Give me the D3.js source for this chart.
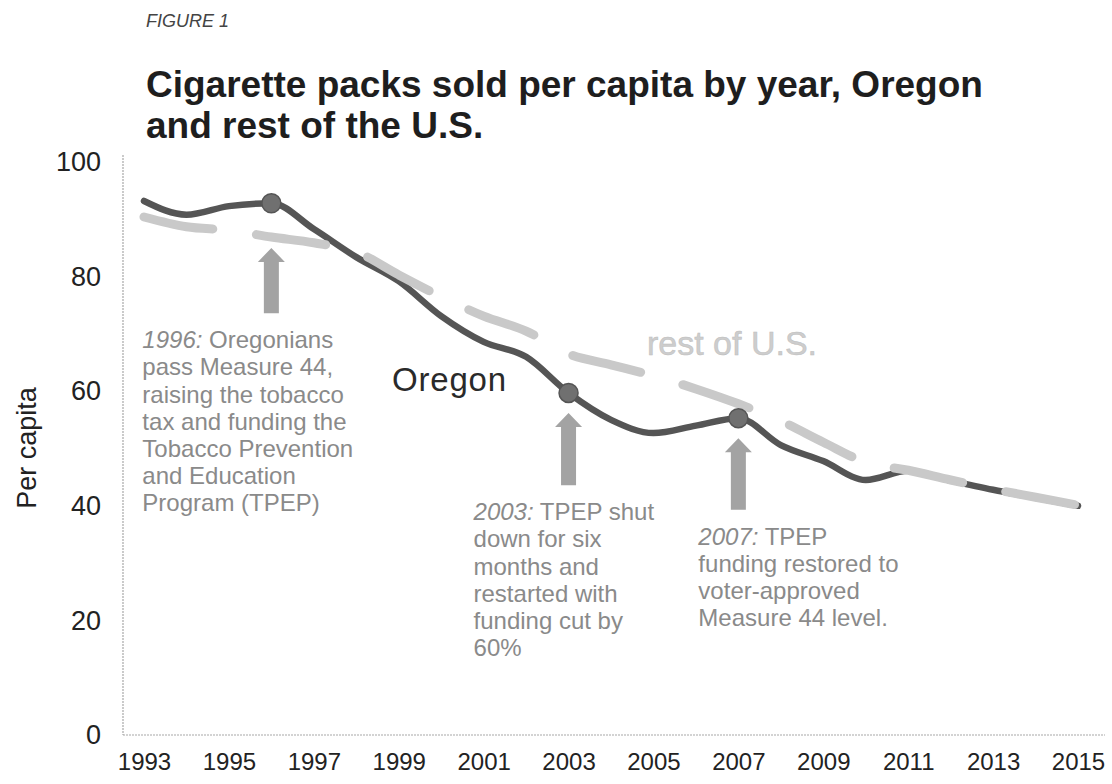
<!DOCTYPE html>
<html>
<head>
<meta charset="utf-8">
<script src="https://cdn.jsdelivr.net/npm/d3@7"></script>
<style>
  html, body { margin: 0; padding: 0; background: #fff; }
  svg { display: block; }
  text { font-family: "Liberation Sans", Arial, sans-serif; }
</style>
</head>
<body>
<svg id="chart" width="1112" height="784"></svg>
<script>
// Cigarette packs sold per capita, 1993–2015
const years = d3.range(1993, 2016);
const oregon = [93.2, 90.8, 92.3, 92.8, 88.3, 83.4, 79.2, 73.1, 68.6, 66.0, 59.7, 55.0, 52.7,
                54.0, 55.3, 50.6, 47.8, 44.5, 46.1, 44.4, 42.8, 41.4, 40.0];
const restOfUS = [90.4, 88.7, 88.1, 86.9, 85.9, 84.3, 80.3, 76.5, 73.1, 70.5, 66.5, 64.6, 62.7,
                  60.4, 57.8, 54.8, 51.1, 47.6, 46.2, 44.5, 42.9, 41.5, 40.1];
const yTicks = [0, 20, 40, 60, 80, 100];
const xTickYears = [1993, 1995, 1997, 1999, 2001, 2003, 2005, 2007, 2009, 2011, 2013, 2015];
const markedYears = [1996, 2003, 2007];

// Policy milestones: arrow spans (in packs) and note text
const notes = [
  { year: 1996, arrowTip: 85.0, arrowBase: 73.6,
    lead: "1996:", lines: [" Oregonians", "pass Measure 44,", "raising the tobacco",
      "tax and funding the", "Tobacco Prevention", "and Education", "Program (TPEP)"] },
  { year: 2003, arrowTip: 56.2, arrowBase: 43.6,
    lead: "2003:", lines: [" TPEP shut", "down for six", "months and", "restarted with",
      "funding cut by", "60%"] },
  { year: 2007, arrowTip: 51.8, arrowBase: 39.3,
    lead: "2007:", lines: [" TPEP", "funding restored to", "voter-approved",
      "Measure 44 level."] }
];
// horizontal placement of each note block relative to its arrow
const noteShift = { 1996: -129, 2003: -95, 2007: -40 };

const svg = d3.select("#chart");

const x = d3.scaleLinear().domain([1993, 2015]).range([144, 1078]);
const y = d3.scaleLinear().domain([0, 100]).range([735, 162]);

// header
svg.append("text").attr("x", 146).attr("y", 27)
  .attr("font-size", 18).attr("font-style", "italic").attr("fill", "#444")
  .text("FIGURE 1");
const title = svg.append("text").attr("font-size", 37).attr("font-weight", "bold").attr("fill", "#1e1e1e");
title.append("tspan").attr("x", 146).attr("y", 97).text("Cigarette packs sold per capita by year, Oregon");
title.append("tspan").attr("x", 146).attr("y", 138).text("and rest of the U.S.");

// axes frame
svg.append("line").attr("x1", 123).attr("x2", 123).attr("y1", 155).attr("y2", y(0))
  .attr("stroke", "#a8a8a8").attr("stroke-width", 1.2).attr("stroke-dasharray", "2,1");
svg.append("line").attr("x1", 123).attr("x2", 1105).attr("y1", y(0)).attr("y2", y(0))
  .attr("stroke", "#a8a8a8").attr("stroke-width", 1.2).attr("stroke-dasharray", "2,1");

const yAxis = d3.axisLeft(y).tickValues(yTicks).tickSize(0).tickPadding(0);
svg.append("g").attr("transform", "translate(101,0)").call(yAxis)
  .call(g => g.select(".domain").remove())
  .selectAll("text").attr("font-size", 27).attr("fill", "#222")
  .attr("font-family", "'Liberation Sans', Arial, sans-serif");

const xAxis = d3.axisBottom(x).tickValues(xTickYears).tickFormat(d3.format("d"))
  .tickSize(0).tickPadding(0);
svg.append("g").attr("transform", "translate(0,753)").call(xAxis)
  .call(g => g.select(".domain").remove())
  .selectAll("text").attr("font-size", 24).attr("fill", "#222")
  .attr("font-family", "'Liberation Sans', Arial, sans-serif");

svg.append("text")
  .attr("transform", "translate(36,448) rotate(-90)")
  .attr("text-anchor", "middle").attr("font-size", 27).attr("fill", "#222")
  .text("Per capita");

// series
const line = d3.line().x((d, i) => x(years[i])).y(d => y(d)).curve(d3.curveMonotoneX);

svg.append("path").datum(oregon).attr("d", line)
  .attr("fill", "none").attr("stroke", "#555").attr("stroke-width", 6.5)
  .attr("stroke-linecap", "round").attr("stroke-linejoin", "round");

svg.append("path").datum(restOfUS).attr("d", line)
  .attr("fill", "none").attr("stroke", "#c9c9c9").attr("stroke-width", 9)
  .attr("stroke-linecap", "round").attr("stroke-dasharray", "70,44");

svg.selectAll("circle.mark").data(markedYears).join("circle")
  .attr("class", "mark")
  .attr("cx", d => x(d)).attr("cy", d => y(oregon[years.indexOf(d)]))
  .attr("r", 9.5).attr("fill", "#707070").attr("stroke", "#555").attr("stroke-width", 1.5);

// series labels
svg.append("text").attr("x", 392).attr("y", 391)
  .attr("font-family", "'Open Sans', sans-serif")
  .attr("font-size", 33).attr("letter-spacing", 0.8).attr("fill", "#2a2a2a").text("Oregon");
svg.append("text").attr("x", 647).attr("y", 355)
  .attr("font-size", 34).attr("fill", "#cdcdcd").attr("stroke", "#bdbdbd").attr("stroke-width", 0.5)
  .text("rest of U.S.");

// milestone arrows and notes
const arrowShape = (cx, tipY, baseY) => {
  const hw = 13.5, sw = 7.5, hh = 14;
  return `M${cx},${tipY} L${cx + hw},${tipY + hh} L${cx + sw},${tipY + hh} L${cx + sw},${baseY}
          L${cx - sw},${baseY} L${cx - sw},${tipY + hh} L${cx - hw},${tipY + hh} Z`;
};
notes.forEach(n => {
  const cx = x(n.year);
  svg.append("path").attr("d", arrowShape(cx, y(n.arrowTip), y(n.arrowBase)))
    .attr("fill", "#a3a3a3");
  const t = svg.append("text").attr("font-size", 24).attr("fill", "#8a8a8a");
  const left = cx + noteShift[n.year];
  const top = y(n.arrowBase) + 35;
  n.lines.forEach((ln, i) => {
    if (i === 0) {
      t.append("tspan").attr("x", left).attr("y", top).attr("font-style", "italic").text(n.lead);
      t.append("tspan").text(ln);
    } else {
      t.append("tspan").attr("x", left).attr("y", top + i * 27.2).text(ln);
    }
  });
});
</script>
</body>
</html>
